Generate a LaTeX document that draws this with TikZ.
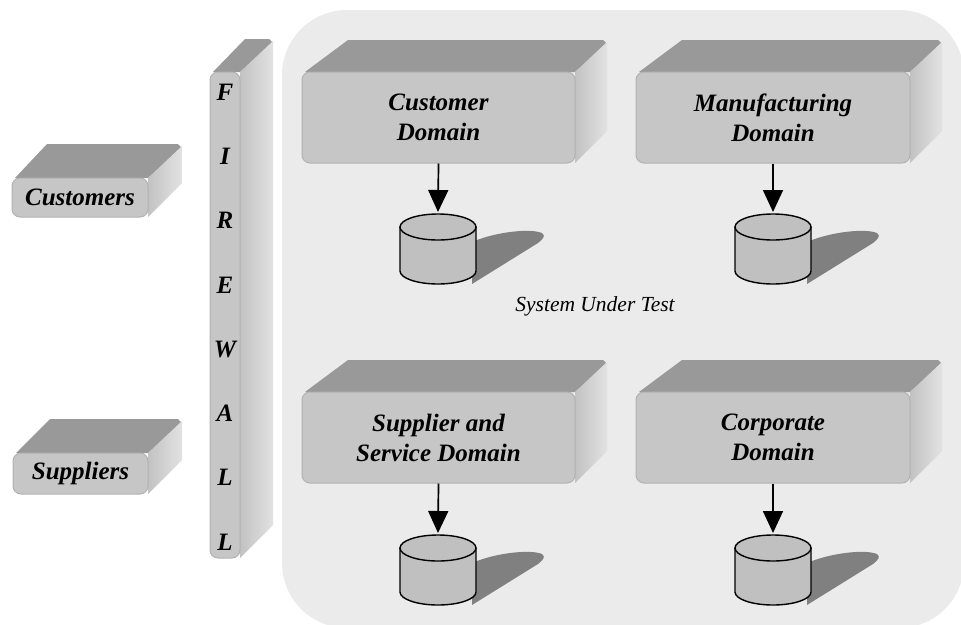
\documentclass[tikz,border=0pt]{standalone}
\usepackage{fontspec}
\setmainfont{Liberation Serif}
\usetikzlibrary{arrows.meta}
\definecolor{panelc}{HTML}{EBEBEB}
\definecolor{frontc}{HTML}{C6C6C6}
\definecolor{frontl}{HTML}{B2B2B2}
\definecolor{topc}{HTML}{999999}
\definecolor{sidel}{HTML}{C2C2C2}
\definecolor{sider}{HTML}{E2E2E2}
\definecolor{cylc}{HTML}{C0C0C0}
\definecolor{shadc}{HTML}{808080}
\tikzset{
  frontface/.style={fill=frontc, draw=frontl, line width=1pt, rounded corners=8pt, inner sep=0pt, align=center,
    font=\bfseries\itshape\fontsize{25}{30}\selectfont},
  topface/.style={fill=topc},
  sideface/.style={left color=sidel, right color=sider},
  arr/.style={line width=1.7pt, -{Triangle[length=22pt,width=20pt]}},
  lettr/.style={font=\bfseries\itshape\fontsize{25}{30}\selectfont, inner sep=0pt},
}
% #1 x1 #2 y1 #3 x2 #4 y2 #5 back-left offset #6 depth #7 name #8 text
\newcommand\boxthree[8]{%
  \fill[topface] ({#1+3},{#2}) -- ({#1+#5},{#2-#6}) -- ({#3+#6-4},{#2-#6}) -- ({#3+#6},{#2-#6+4}) -- ({#3},{#2}) -- cycle;
  \shade[sideface] ({#3},{#2}) -- ({#3+#6},{#2-#6+2}) -- ({#3+#6},{#4-#6}) -- ({#3},{#4}) -- cycle;
  \node[frontface, minimum width={#3-#1}, minimum height={#4-#2}] (#7) at ({(#1+#3)/2},{(#2+#4)/2}) {#8};
}
% #1 cx #2 cy(top center) #3 name
\newcommand\cylthree[3]{%
  \fill[shadc] ({#1+34},{#2+15}) .. controls ({#1+57},{#2+5}) and ({#1+92},{#2+1}) .. ({#1+104},{#2+6})
     .. controls ({#1+108},{#2+9}) and ({#1+105},{#2+12}) .. ({#1+100},{#2+16}) -- ({#1+34},{#2+57}) -- cycle;
  \filldraw[fill=cylc, draw=black, line width=1.4pt] ({#1-38},{#2}) -- ({#1-38},{#2+44})
     arc[start angle=180, end angle=0, x radius=38, y radius=13] -- ({#1+38},{#2}) -- cycle;
  \filldraw[fill=cylc, draw=black, line width=1.4pt] ({#1},{#2}) ellipse [x radius=38, y radius=13];
  \coordinate (#3) at ({#1},{#2-15});
}
\begin{document}
\begin{tikzpicture}[x=1pt,y=-1pt]
\useasboundingbox (0,0) rectangle (961,624);
\clip (0,0) rectangle (961,624);
% panel
\fill[panelc, rounded corners=65pt] (282,10) rectangle (964,628);
% firewall
\boxthree{210}{72}{240}{558}{35}{33}{fw}{}
\foreach \ch [count=\i from 0] in {F,I,R,E,W,A,L,L} {
  \node[lettr] (fl\i) at (225,{92+\i*64.3}) {\ch};
}
% outside boxes
\boxthree{12}{178}{148}{217}{35}{34}{custs}{Customers}
\boxthree{13}{453}{148}{494}{37}{34}{supps}{Suppliers}
% domains
\boxthree{302}{72}{575}{163}{46}{32}{cust}{Customer\\Domain}
\boxthree{636}{72}{910}{163}{46}{32}{manu}{Manufacturing\\Domain}
\boxthree{302}{392}{575}{483}{46}{32}{supd}{Supplier and\\Service Domain}
\boxthree{636}{392}{910}{483}{46}{32}{corp}{Corporate\\Domain}
% databases
\cylthree{438}{227}{db1}
\cylthree{773}{227}{db2}
\cylthree{438}{548}{db3}
\cylthree{773}{548}{db4}
\draw[arr] (cust.south) -- (db1);
\draw[arr] (manu.south) -- (db2);
\draw[arr] (supd.south) -- (db3);
\draw[arr] (corp.south) -- (db4);
\node[font=\itshape\fontsize{21.5}{26}\selectfont] (sut) at (595,306) {System Under Test};
\end{tikzpicture}
\end{document}
